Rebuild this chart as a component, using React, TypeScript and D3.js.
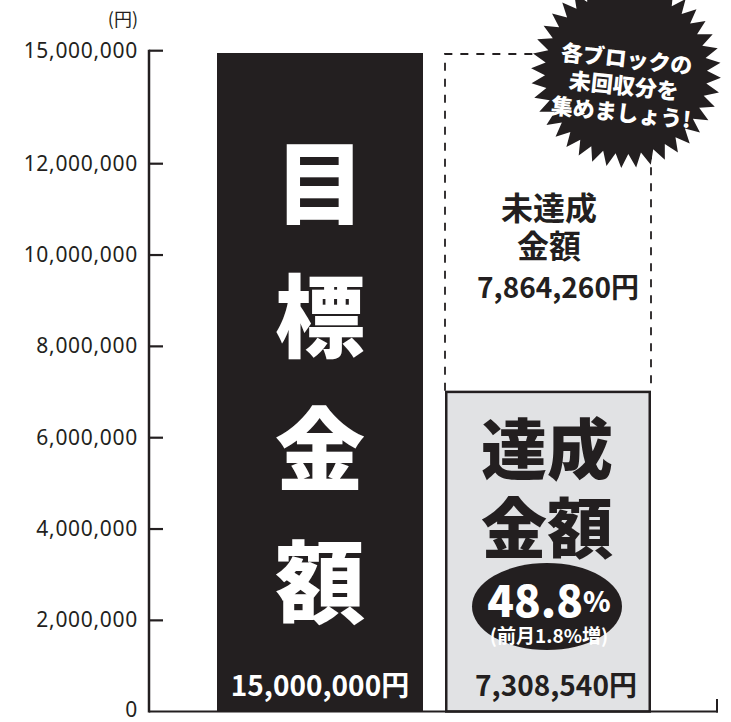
import React from "react";
import * as d3 from "d3";

const categories = ["目標金額", "達成金額"];
const targetValue = 15000000;
const achievedValue = 7308540;
const remainingValue = 7864260;
const achievedRate = "48.8";
const rateChange = "(前月1.8%増)";
const tickValues = [0, 2000000, 4000000, 6000000, 8000000, 10000000, 12000000, 15000000];
const unitLabel = "(円)";
const burstLines = ["各ブロックの", "未回収分を", "集めましょう!"];

const INK = "#231f20";
const GRAY = "#e1e2e4";
const JP = "'Noto Sans CJK JP', 'Noto Sans', sans-serif";

export default function App() {
  const W = 731, H = 722;
  const y0 = 711.5;
  const yBar = d3.scaleLinear().domain([0, targetValue]).range([y0, 53]);
  const yTick = d3.scaleLinear().domain([0, 12000000, 15000000]).range([711.7, 163.7, 50.7]);
  const x = d3.scaleBand().domain(categories).range([217, 651]).paddingInner(22 / 228).paddingOuter(0);
  const fmt = d3.format(",");
  const axisX = 149;

  const bw = x.bandwidth();
  const x1 = x(categories[0])!;
  const x2 = x(categories[1])!;
  const c1 = x1 + bw / 2;
  const c2 = x2 + bw / 2;
  const yTarget = yBar(targetValue);
  const yAch = yBar(achievedValue);

  // starburst
  const spikes = 40;
  const bcx = 626, bcy = 73, rOut = 95, rIn = 81;
  const pts: [number, number][] = d3.range(spikes * 2).map((i) => [
    (i * Math.PI) / spikes + 0.05,
    i % 2 === 0 ? rOut : rIn,
  ]);
  const burstPath = d3.lineRadial().curve(d3.curveLinearClosed)(pts as any) || "";

  return (
    <svg width={W} height={H} style={{ position: "absolute", left: 0, top: 0, background: "#fff" }}>
      {/* dashed target outline for unachieved */}
      <path
        d={`M${x2},${yAch} L${x2},${yTarget + 1} L${x2 + bw},${yTarget + 1} L${x2 + bw},${yAch}`}
        fill="none"
        stroke={INK}
        strokeWidth={1.8}
        strokeDasharray="8 8"
      />
      {/* target bar */}
      <rect x={x1} y={yTarget} width={bw} height={y0 - yTarget} fill={INK} />
      {/* achieved bar */}
      <rect x={x2 + 1.25} y={yAch + 1.25} width={bw - 2.5} height={y0 - yAch - 1.25} fill={GRAY} stroke={INK} strokeWidth={2.5} />

      {/* axis */}
      <line x1={axisX} x2={axisX} y1={yTick(15000000) - 1} y2={y0 + 1} stroke={INK} strokeWidth={2.5} />
      <line x1={axisX} x2={718} y1={y0} y2={y0} stroke={INK} strokeWidth={2.2} />
      <line x1={717} x2={717} y1={699} y2={y0 + 1} stroke={INK} strokeWidth={2} />
      {tickValues.map((t) => (
        <g key={t}>
          {t > 0 && <line x1={axisX} x2={163} y1={yTick(t)} y2={yTick(t)} stroke={INK} strokeWidth={2.2} />}
          <text
            x={138}
            y={Math.min(yTick(t) - 1, 709)}
            textAnchor="end"
            dominantBaseline="central"
            fontFamily="'Noto Sans', sans-serif"
            fontSize={21}
            letterSpacing={0.7}
            fill={INK}
          >
            {fmt(t)}
          </text>
        </g>
      ))}
      <text x={138} y={18} textAnchor="end" dominantBaseline="central" fontFamily={JP} fontSize={18} fill={INK}>
        {unitLabel}
      </text>

      {/* target bar text */}
      {Array.from(categories[0]).map((ch, i) => (
        <text
          key={i}
          x={c1}
          y={178 + i * 133}
          textAnchor="middle"
          dominantBaseline="central"
          fontFamily={JP}
          fontWeight={900}
          fontSize={90}
          fill="#fff"
        >
          {ch}
        </text>
      ))}
      <text x={c1} y={684} textAnchor="middle" dominantBaseline="central" fontFamily={JP} fontWeight={700} fontSize={28} fill="#fff">
        {fmt(targetValue)}円
      </text>

      {/* unachieved text */}
      <text x={c2 + 1} y={206} textAnchor="middle" dominantBaseline="central" fontFamily={JP} fontWeight={700} fontSize={32} fill={INK}>
        未達成
      </text>
      <text x={c2 + 1} y={244} textAnchor="middle" dominantBaseline="central" fontFamily={JP} fontWeight={700} fontSize={32} fill={INK}>
        金額
      </text>
      <text x={558} y={286} textAnchor="middle" dominantBaseline="central" fontFamily={JP} fontWeight={700} fontSize={28} fill={INK}>
        {fmt(remainingValue)}円
      </text>

      {/* achieved text */}
      <text x={c2 - 1} y={445} textAnchor="middle" dominantBaseline="central" fontFamily={JP} fontWeight={900} fontSize={66} fill={INK}>
        達成
      </text>
      <text x={c2 - 1} y={524} textAnchor="middle" dominantBaseline="central" fontFamily={JP} fontWeight={900} fontSize={66} fill={INK}>
        金額
      </text>
      <ellipse cx={547} cy={606.5} rx={75} ry={43.5} fill={INK} />
      <text x={549} y={598} textAnchor="middle" dominantBaseline="central" fontFamily={JP} fontWeight={900} fill="#fff">
        <tspan fontSize={44}>{achievedRate}</tspan>
        <tspan fontSize={28} dy={2}>%</tspan>
      </text>
      <text x={549} y={634} textAnchor="middle" dominantBaseline="central" fontFamily={JP} fontWeight={700} fontSize={19} fill="#fff">
        {rateChange}
      </text>
      <text x={556} y={684} textAnchor="middle" dominantBaseline="central" fontFamily={JP} fontWeight={700} fontSize={28} fill={INK}>
        {fmt(achievedValue)}円
      </text>

      {/* starburst */}
      <path d={burstPath} transform={`translate(${bcx},${bcy})`} fill={INK} />
      <g transform="translate(624,84) rotate(6)" fontFamily={JP} fontWeight={900} fontSize={22} fill="#fff" textAnchor="middle">
        {burstLines.map((l, i) => (
          <text key={i} x={0} y={(i - 1) * 27} dominantBaseline="central">
            {l}
          </text>
        ))}
      </g>
    </svg>
  );
}
